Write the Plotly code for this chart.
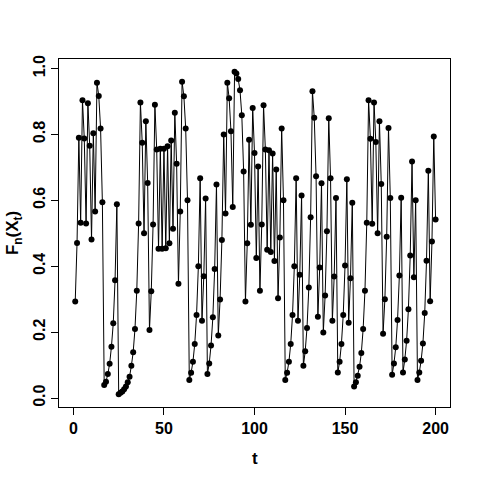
import plotly.graph_objects as go

t = list(range(1, 201))
fn_xt = [
    0.293, 0.471, 0.790, 0.532, 0.904, 0.788, 0.530, 0.895, 0.766, 0.481,
    0.804, 0.566, 0.957, 0.917, 0.818, 0.594, 0.040, 0.050, 0.073, 0.104,
    0.156, 0.227, 0.358, 0.588, 0.012, 0.016, 0.020, 0.027, 0.035, 0.048,
    0.065, 0.098, 0.139, 0.210, 0.326, 0.530, 0.897, 0.775, 0.500, 0.840,
    0.653, 0.207, 0.324, 0.527, 0.890, 0.754, 0.453, 0.757, 0.453, 0.757,
    0.455, 0.764, 0.470, 0.782, 0.514, 0.866, 0.711, 0.347, 0.566, 0.960,
    0.916, 0.818, 0.600, 0.055, 0.077, 0.110, 0.164, 0.252, 0.400, 0.667,
    0.235, 0.370, 0.606, 0.073, 0.105, 0.160, 0.245, 0.392, 0.648, 0.190,
    0.299, 0.480, 0.800, 0.560, 0.957, 0.910, 0.810, 0.580, 0.990, 0.985,
    0.968, 0.934, 0.858, 0.688, 0.293, 0.470, 0.784, 0.526, 0.880, 0.744,
    0.425, 0.703, 0.326, 0.527, 0.889, 0.754, 0.450, 0.752, 0.443, 0.742,
    0.416, 0.694, 0.303, 0.487, 0.818, 0.600, 0.055, 0.077, 0.110, 0.164,
    0.252, 0.400, 0.667, 0.235, 0.374, 0.615, 0.098, 0.142, 0.213, 0.336,
    0.549, 0.931, 0.851, 0.673, 0.247, 0.396, 0.652, 0.199, 0.311, 0.506,
    0.849, 0.667, 0.235, 0.369, 0.607, 0.078, 0.110, 0.164, 0.252, 0.402,
    0.664, 0.229, 0.364, 0.593, 0.035, 0.048, 0.068, 0.095, 0.137, 0.210,
    0.326, 0.532, 0.904, 0.787, 0.529, 0.897, 0.777, 0.500, 0.840, 0.650,
    0.195, 0.300, 0.490, 0.820, 0.607, 0.071, 0.105, 0.154, 0.237, 0.372,
    0.608, 0.078, 0.117, 0.174, 0.270, 0.433, 0.718, 0.367, 0.600, 0.055,
    0.078, 0.113, 0.166, 0.258, 0.417, 0.690, 0.294, 0.475, 0.794, 0.542,
]

x_ticks = [0, 50, 100, 150, 200]
y_ticks = [0.0, 0.2, 0.4, 0.6, 0.8, 1.0]
y_tick_text = ["0.0", "0.2", "0.4", "0.6", "0.8", "1.0"]

FONT = "Liberation Sans"

fig = go.Figure()
fig.add_trace(go.Scatter(
    x=t, y=fn_xt, mode="lines+markers",
    line=dict(color="black", width=1),
    marker=dict(color="black", size=6),
    showlegend=False,
))

axis_style = dict(
    showline=True, linecolor="black", linewidth=1, mirror=True,
    ticks="outside", ticklen=7, tickwidth=1, tickcolor="black",
    showgrid=False, zeroline=False,
    tickfont=dict(family=FONT, size=16, color="black", weight="bold"),
)
fig.update_xaxes(range=[-7.96, 207.96], tickvals=x_ticks, **axis_style)
fig.update_yaxes(range=[-0.027, 1.029], tickvals=y_ticks, ticktext=y_tick_text,
                 tickangle=-90, **axis_style)

fig.add_annotation(text="<b>t</b>", xref="paper", yref="paper", x=0.5, y=-0.147,
                   showarrow=False, xanchor="center", yanchor="middle",
                   font=dict(family=FONT, size=17, color="black"))
fig.add_annotation(text="<b>F<sub>n</sub>(X<sub>t</sub>)</b>", xref="paper", yref="paper",
                   x=-0.115, y=0.5, textangle=-90, showarrow=False,
                   xanchor="center", yanchor="middle",
                   font=dict(family=FONT, size=17, color="black"))

fig.update_layout(
    width=480, height=480,
    margin=dict(l=59, r=30, t=59, b=73, autoexpand=False),
    paper_bgcolor="white", plot_bgcolor="white",
)

# drop the default 8px body margin so the figure sits at the window corner
fig.write_html(
    "out.html",
    config={"displayModeBar": False},
    post_script="document.body.style.margin = '0px';",
)
